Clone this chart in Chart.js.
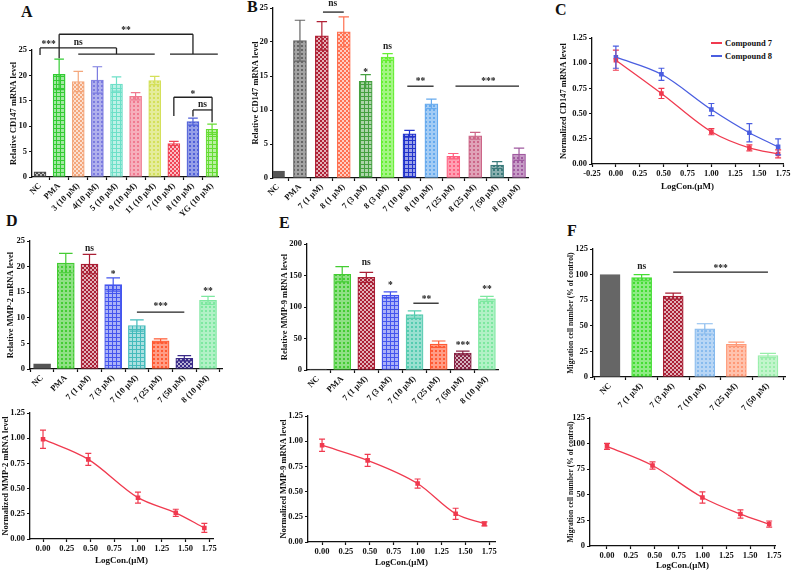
<!DOCTYPE html>
<html><head><meta charset="utf-8">
<script src="https://cdn.jsdelivr.net/npm/chart.js@4.4.1/dist/chart.umd.min.js"></script>
<style>
html,body{margin:0;padding:0;background:#fff;}
#wrap{position:relative;width:792px;height:573px;overflow:hidden;background:#fff;}
canvas{position:absolute;}
.lbl{position:absolute;font:bold 16px 'Liberation Serif','Times New Roman',serif;color:#111;line-height:1;}
.leg{position:absolute;font:bold 8.5px 'Liberation Serif','Times New Roman',serif;color:#111;white-space:nowrap;line-height:1;}
.legline{position:absolute;height:2px;width:11px;}
</style></head><body><div id="wrap">
<div class="lbl" style="left:21px;top:4px">A</div>
<div class="lbl" style="left:247px;top:-1px">B</div>
<div class="lbl" style="left:555px;top:2px">C</div>
<div class="lbl" style="left:6px;top:213px">D</div>
<div class="lbl" style="left:279px;top:215px">E</div>
<div class="lbl" style="left:567px;top:223px">F</div>
<div class="legline" style="left:711px;top:42px;background:#f03a4f"></div>
<div class="leg" style="left:725px;top:39px">Compound 7</div>
<div class="legline" style="left:711px;top:55px;background:#4a5ee0"></div>
<div class="leg" style="left:725px;top:52px">Compound 8</div>
</div>
<script>
// ---------- data ----------
const catsA = ['NC','PMA','3 (10 μM)','4(10 μM)','5 (10 μM)','9 (10 μM)','11 (10 μM)','7 (10 μM)','8 (10 μM)','YG (10 μM)'];
const valsA = [1.0,20.2,18.8,19.1,18.3,15.9,19.0,6.6,10.9,9.4];
const errA  = [0,3.0,2.0,2.6,1.4,0.7,0.8,0.4,0.7,1.0];
const ticksA = [0,5,10,15,20,25];

const catsB = ['NC','PMA','7 (1 μM)','8 (1 μM)','7 (3 μM)','8 (3 μM)','7 (10 μM)','8 (10 μM)','7 (25 μM)','8 (25 μM)','7 (50 μM)','8 (50 μM)'];
const valsB = [1.0,20.2,20.9,21.5,14.2,17.8,6.5,10.9,3.2,6.2,1.9,3.5];
const errB  = [0,3.0,2.1,2.2,1.0,0.5,0.5,0.7,0.4,0.5,0.5,0.9];
const ticksB = [0,5,10,15,20,25];

const logConc = [0,0.477,1.0,1.398,1.699];
const cmp7 = [1.03,0.70,0.32,0.16,0.10];
const cmp7Err = [0.10,0.05,0.03,0.03,0.04];
const cmp8 = [1.06,0.89,0.54,0.31,0.17];
const cmp8Err = [0.11,0.06,0.06,0.09,0.08];
const ticksLogC = [-0.25,0,0.25,0.5,0.75,1.0,1.25,1.5,1.75];
const ticksLog = [0,0.25,0.5,0.75,1.0,1.25,1.5,1.75];
const ticksNorm = [0,0.25,0.5,0.75,1.0,1.25];

const catsDE = ['NC','PMA','7 (1 μM)','7 (3 μM)','7 (10 μM)','7 (25 μM)','7 (50 μM)','8 (10 μM)'];
const valsD = [1.0,20.7,20.5,16.5,8.5,5.5,2.1,13.4];
const errD  = [0,1.9,1.9,1.3,1.1,0.4,0.5,0.8];
const ticksD = [0,5,10,15,20,25];
const valsE = [1.5,152,147,119,88,41,27,113];
const errE  = [0,12,8,5,6,5,3,4];
const ticksE = [0,50,100,150,200];

const catsF = ['NC','7 (1 μM)','7 (3 μM)','7 (10 μM)','7 (25 μM)','7 (50 μM)'];
const valsF = [100,97,79,47,32,21];
const errF  = [0,3,3,5,2,2];
const ticksF = [0,25,50,75,100,125];

const mmp2 = [0.99,0.79,0.41,0.26,0.11];
const mmp2Err = [0.09,0.06,0.055,0.035,0.045];
const mmp9 = [0.96,0.81,0.58,0.28,0.18];
const mmp9Err = [0.06,0.06,0.045,0.055,0.02];
const migr = [97.3,78.6,47.4,31.2,21.4];
const migrErr = [3,3.5,5.5,4,3];

// ---------- styles ----------
const stylesA = [['#4a4a4a','check'],['#33cc33','grid'],['#f4a77c','check'],['#7b7be0','dots'],['#6ee0c8','grid'],['#f07a90','dots'],['#d4e05a','dots'],['#f04455','check'],['#5060d8','dots'],['#66dd33','grid']];
const stylesB = [['#555555','solid'],['#666666','dots'],['#b02035','check'],['#ff7050','check'],['#44a040','grid'],['#66ee33','dots'],['#2233cc','grid'],['#66aaee','dots'],['#ff6080','dots'],['#cc6688','dots'],['#3a7a7a','dots'],['#a05aa0','dots']];
const stylesD = [['#555555','solid'],['#44cc33','dots'],['#aa1f35','check'],['#4455ee','grid'],['#44bbbb','grid'],['#ff5a33','dots'],['#3a2a88','check'],['#7de8a0','dots']];
const stylesE = [['#555555','solid'],['#44cc33','dots'],['#aa1f35','check'],['#4455ee','grid'],['#55ccb0','dots'],['#ff5a33','dots'],['#882244','check'],['#7de8a0','dots']];
const stylesF = [['#666666','solid'],['#44dd33','dots'],['#aa1f35','check'],['#88bbee','dots'],['#ff9977','dots'],['#99eeaa','dots']];
const RED = '#f03a4f', BLUE = '#4a5ee0';

const FAM = "'Liberation Serif','Times New Roman',serif";
const wrap = document.getElementById('wrap');
const pctx = document.createElement('canvas').getContext('2d');
function pat(col, type){
  const c = document.createElement('canvas'); c.width = c.height = 4;
  const g = c.getContext('2d');
  g.fillStyle = '#fff'; g.fillRect(0,0,4,4); g.fillStyle = col;
  if (type === 'solid') { g.fillRect(0,0,4,4); }
  else if (type === 'grid') { g.globalAlpha=0.45; g.fillRect(0,0,4,4); g.globalAlpha=1; g.fillRect(0,0,4,1); g.fillRect(0,0,1,4); }
  else if (type === 'check') { g.globalAlpha=0.35; g.fillRect(0,0,4,4); g.globalAlpha=1; g.fillRect(0,0,2,2); g.fillRect(2,2,2,2); }
  else { g.globalAlpha=0.6; g.fillRect(0,0,4,4); g.globalAlpha=1; g.fillRect(1,1,2,2); }
  return pctx.createPattern(c,'repeat');
}
function addCanvas(b){
  const c = document.createElement('canvas');
  c.width = b.w; c.height = b.h;
  c.style.left = b.x+'px'; c.style.top = b.y+'px';
  c.style.width = b.w+'px'; c.style.height = b.h+'px';
  wrap.appendChild(c); return c;
}
function fixAxis(size, vertical){
  return s => { if (vertical) s.width = size; else s.height = size;
    s.paddingLeft = s.paddingRight = s.paddingTop = s.paddingBottom = 0; };
}
function extras(spec){
  return { id:'extras', afterDatasetsDraw(chart){
    const ctx = chart.ctx, xs = chart.scales.x, ys = chart.scales.y;
    ctx.save();
    (spec.errs||[]).forEach((errs, d) => {
      const meta = chart.getDatasetMeta(d), ds = chart.data.datasets[d];
      meta.data.forEach((el, i) => {
        const e = errs[i]; if (!e) return;
        const v = ds.data[i].y;
        const col = Array.isArray(ds.borderColor) ? ds.borderColor[i] : ds.borderColor;
        const x = el.x, y1 = ys.getPixelForValue(v+e), y2 = ys.getPixelForValue(v-e);
        const hw = spec.cap || (el.width*0.4);
        ctx.strokeStyle = col; ctx.lineWidth = 1.2;
        ctx.beginPath();
        ctx.moveTo(x,y1); ctx.lineTo(x,y2);
        ctx.moveTo(x-hw,y1); ctx.lineTo(x+hw,y1);
        ctx.moveTo(x-hw,y2); ctx.lineTo(x+hw,y2);
        ctx.stroke();
      });
    });
    ctx.strokeStyle = '#222'; ctx.lineWidth = 1.3;
    (spec.lines||[]).forEach(([x1,y1,x2,y2]) => {
      ctx.beginPath();
      ctx.moveTo(xs.getPixelForValue(x1), ys.getPixelForValue(y1));
      ctx.lineTo(xs.getPixelForValue(x2), ys.getPixelForValue(y2));
      ctx.stroke();
    });
    ctx.fillStyle = '#222'; ctx.font = 'bold 9.5px ' + FAM;
    ctx.textAlign = 'center'; ctx.textBaseline = 'middle';
    (spec.texts||[]).forEach(([t,x,y]) => {
      ctx.fillText(t, xs.getPixelForValue(x), ys.getPixelForValue(y) + (t[0]==='*' ? 2.5 : 0));
    });
    ctx.restore();
  }};
}
const tickFont = {family:FAM, size:8.5, weight:'bold'};

function yAxis(box, area, ticks, fmt, title, titleX, tsize){
  const fs = tsize || 8.5;
  return {
    min: ticks[0], max: ticks[ticks.length-1],
    afterBuildTicks: s => { s.ticks = ticks.map(v => ({value:v})); },
    afterFit: fixAxis(area.L - box.x, true),
    ticks: {font: tickFont, color:'#111', padding:2, callback: fmt},
    grid: {drawOnChartArea:false, drawTicks:true, tickLength:3, tickColor:'#111', tickWidth:1.2},
    border: {display:true, color:'#111', width:1.3},
    title: {display:true, text:title, font:{family:FAM, size:fs, weight:'bold'}, color:'#111', padding:{top: Math.max(0, titleX - box.x - fs*0.6), bottom:0}}
  };
}
function baseOpts(box, area){
  return { responsive:false, animation:false, events:[], devicePixelRatio:1,
    layout:{padding:{left:0, right: box.x+box.w-area.R, top: area.T-box.y, bottom:0}},
    plugins:{legend:{display:false}, tooltip:{enabled:false}} };
}

function barChart(box, area, cats, vals, errs, styles, o){
  const cv = addCanvas(box);
  const opts = baseOpts(box, area);
  opts.scales = {
    x: { type:'linear', min:o.xmin, max:o.xmax, offset:false,
      afterBuildTicks: s => { s.ticks = cats.map((_,i) => ({value:i})); },
      afterFit: fixAxis(box.y+box.h-area.B, false),
      ticks: {autoSkip:false, maxRotation:45, minRotation:45, font:tickFont, color:'#111', padding:1, callback: v => cats[v]},
      grid: {drawOnChartArea:false, drawTicks:true, tickLength:3, tickColor:'#111', tickWidth:1.2},
      border: {display:true, color:'#111', width:1.3}
    },
    y: yAxis(box, area, o.yticks, v => v, o.ytitle, o.titleX, o.tsize)
  };
  new Chart(cv, {
    type:'bar',
    data:{datasets:[{
      data: vals.map((v,i) => ({x:i, y:v})),
      backgroundColor: styles.map(s => pat(s[0], s[1])),
      borderColor: styles.map(s => s[0]),
      borderWidth: 1.2, borderSkipped:false, barThickness:o.bw
    }]},
    options: opts,
    plugins: [extras({errs:[errs], lines:o.lines, texts:o.texts})]
  });
}

function lineChart(box, area, series, o){
  const cv = addCanvas(box);
  const opts = baseOpts(box, area);
  opts.scales = {
    x: { type:'linear', min:o.xmin, max:o.xmax,
      afterBuildTicks: s => { s.ticks = o.xticks.map(v => ({value:v})); },
      afterFit: fixAxis(box.y+box.h-area.B, false),
      ticks: {autoSkip:false, maxRotation:0, minRotation:0, font:tickFont, color:'#111', padding:2, callback: v => v.toFixed(2)},
      grid: {drawOnChartArea:false, drawTicks:true, tickLength:3, tickColor:'#111', tickWidth:1.2},
      border: {display:true, color:'#111', width:1.3},
      title: {display:true, text:'LogCon.(μM)', font:{family:FAM, size:9, weight:'bold'}, color:'#111', padding:{top:0, bottom: Math.max(0, box.y+box.h - o.xtitleY - 5.4)}}
    },
    y: yAxis(box, area, o.yticks, o.yfmt, o.ytitle, o.titleX, o.tsize)
  };
  new Chart(cv, {
    type:'line',
    data:{datasets: series.map(s => ({
      label: s.label,
      data: logConc.map((x,i) => ({x, y:s.vals[i]})),
      borderColor: s.color, backgroundColor: s.color,
      borderWidth: 1.3, pointStyle:'rect', pointRadius:2.3,
      cubicInterpolationMode:'monotone', fill:false
    }))},
    options: opts,
    plugins: [extras({errs: series.map(s => s.errs), cap:3})]
  });
}
const f2 = v => v.toFixed(2);

// A
barChart({x:0,y:20,w:232,h:215},{L:32,R:218,T:50,B:177}, catsA, valsA, errA, stylesA, {
  xmin:-0.42, xmax:9.31, bw:12, yticks:ticksA, ytitle:'Relative CD147 mRNA level', titleX:13.5,
  lines:[[0,24.0,0,25.4],[0,25.4,4,25.4],[4,25.4,4,24.2],[1,23.4,1,28.1],[2,24.2,6,24.2],[1,28.1,8,28.1],[8,28.1,8,24.2],[6.8,24.2,9.3,24.2],
         [7,12.0,7,15.7],[7,15.7,9,15.7],[9,15.7,9,10.8],[8,11.9,8,13.2],[8,13.2,9,13.2]],
  texts:[['***',0.45,26.6],['ns',2,26.5],['**',4.5,29.3],['*',8,16.8],['ns',8.5,14.2]]
});
// B
barChart({x:240,y:0,w:290,h:235},{L:273,R:528,T:8,B:178}, catsB, valsB, errB, stylesB, {
  xmin:-0.23, xmax:11.41, bw:13, yticks:ticksB, ytitle:'Relative CD147 mRNA level', titleX:256,
  lines:[[2.05,24.4,3,24.4],[5.9,13.5,7.1,13.5],[8.1,13.5,11,13.5]],
  texts:[['ns',2.5,25.6],['*',4,15.9],['ns',5,19.3],['**',6.5,14.6],['***',9.6,14.6]]
});
// C
lineChart({x:530,y:20,w:262,h:180},{L:592,R:783,T:38,B:164}, [
  {label:'Compound 7', vals:cmp7, errs:cmp7Err, color:RED},
  {label:'Compound 8', vals:cmp8, errs:cmp8Err, color:BLUE}
], {xmin:-0.25, xmax:1.75, xticks:ticksLogC, yticks:ticksNorm, yfmt:f2, ytitle:'Normalized CD147 mRNA level', titleX:564, xtitleY:187});
// D top
barChart({x:0,y:225,w:240,h:185},{L:30,R:222,T:241,B:369}, catsDE, valsD, errD, stylesD, {
  xmin:-0.51, xmax:7.59, bw:17, yticks:ticksD, ytitle:'Relative MMP-2 mRNA level', titleX:11,
  lines:[[4,11.1,6,11.1]],
  texts:[['ns',2,23.6],['*',3,18.9],['***',5,12.7],['**',7,15.6]]
});
// E top
barChart({x:250,y:225,w:270,h:185},{L:307,R:498,T:244,B:370}, catsDE, valsE, errE, stylesE, {
  xmin:-0.46, xmax:7.46, bw:17, yticks:ticksE, ytitle:'Relative MMP-9 mRNA level', titleX:285,
  lines:[[3.95,106,5,106]],
  texts:[['ns',2,170],['*',3,138],['**',4.5,116],['***',6,43],['**',7,132]]
});
// F top
barChart({x:520,y:225,w:272,h:185},{L:593,R:785,T:249,B:377}, catsF, valsF, errF, stylesF, {
  xmin:-0.54, xmax:5.54, bw:20, yticks:ticksF, ytitle:'Migration cell number (% of control)', titleX:571, tsize:7.6,
  lines:[[2,102.5,5,102.5]],
  texts:[['ns',1,108],['***',3.5,108]]
});
// D bottom
lineChart({x:0,y:400,w:240,h:173},{L:30,R:213,T:413,B:539}, [
  {label:'MMP-2', vals:mmp2, errs:mmp2Err, color:RED}
], {xmin:-0.137, xmax:1.79, xticks:ticksLog, yticks:ticksNorm, yfmt:f2, ytitle:'Normalized MMP-2 mRNA level', titleX:5.4, xtitleY:561});
// E bottom
lineChart({x:250,y:400,w:270,h:173},{L:308,R:495,T:416,B:542}, [
  {label:'MMP-9', vals:mmp9, errs:mmp9Err, color:RED}
], {xmin:-0.147, xmax:1.81, xticks:ticksLog, yticks:ticksNorm, yfmt:f2, ytitle:'Normalized MMP-9 mRNA level', titleX:283.5, xtitleY:563});
// F bottom
lineChart({x:520,y:400,w:272,h:173},{L:590,R:775,T:418,B:546}, [
  {label:'Migration', vals:migr, errs:migrErr, color:RED}
], {xmin:-0.178, xmax:1.76, xticks:ticksLog, yticks:ticksF, yfmt:v => v, ytitle:'Migration cell number (% of control)', titleX:571, tsize:7.6, xtitleY:566});
</script>
</body></html>
